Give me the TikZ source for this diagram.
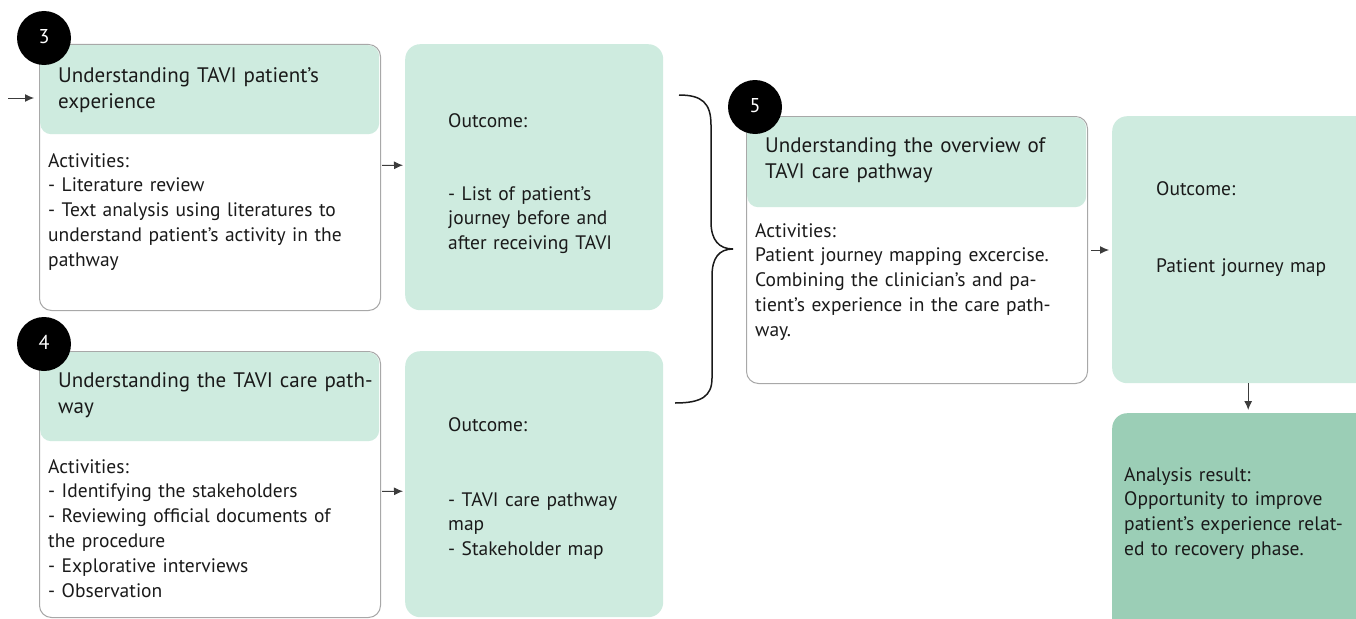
\documentclass[tikz,border=0pt]{standalone}
\usepackage{fontspec}
\setmainfont{PT Sans}
\usetikzlibrary{arrows.meta}
\definecolor{mint}{HTML}{CEEBDF}
\definecolor{deepmint}{HTML}{9BCEB6}
\definecolor{rim}{HTML}{A8A8A8}
\definecolor{ink}{HTML}{1A1A1A}
\newcommand\headf{\fontsize{21}{26}\selectfont}
\newcommand\bodyf{\fontsize{19.5}{24.9}\selectfont}
\tikzset{
  x=1pt, y=-1pt,
  panel/.style={draw=rim, line width=1pt, fill=white, rounded corners=12pt,
    anchor=north west, inner sep=0pt},
  headbox/.style={fill=mint, rounded corners=11pt, anchor=north west, inner sep=0pt},
  outbox/.style={fill=mint, rounded corners=15pt, anchor=north west, inner sep=0pt},
  resbox/.style={fill=deepmint, rounded corners=15pt, anchor=north west, inner sep=0pt},
  numdot/.style={circle, fill=black, minimum size=54pt, inner sep=0pt,
    text=white, font=\fontsize{20}{22}\selectfont},
  htxt/.style={anchor=base west, inner sep=0pt, align=left, text width=330pt,
    font=\headf, text=ink},
  btxt/.style={anchor=base west, inner sep=0pt, align=left, text width=340pt,
    font=\bodyf, text=ink},
  flow/.style={draw=ink!85, line width=1pt, -{Latex[length=9pt,width=8pt]}},
}
\begin{document}
\begin{tikzpicture}
\useasboundingbox (0,0) rectangle (1356,618);
\clip (0,0) rectangle (1356,618);

% step 3: patient experience
\node[panel, minimum width=341pt, minimum height=266pt] (box3) at (39,44) {};
\node[headbox, minimum width=339pt, minimum height=89pt] (head3) at (40,45) {};
\node[outbox, minimum width=258pt, minimum height=266pt] (out1) at (405,44) {};
\node[numdot] (n3) at (44,38) {\raisebox{3pt}{3}};
\node[htxt] (t3h) at (58,82) {Understanding TAVI patient’s\\experience};
\node[btxt] (t3b) at (48,167) {Activities:\\- Literature review\\- Text analysis using literatures to\\understand patient’s activity in the\\pathway};
\node[btxt] (o1a) at (448,127) {Outcome:};
\node[btxt] (o1b) at (448,200) {- List of patient’s\\journey before and\\after receiving TAVI};

% step 4: care pathway
\node[panel, minimum width=341pt, minimum height=266pt] (box4) at (39,351) {};
\node[headbox, minimum width=339pt, minimum height=89pt] (head4) at (40,352) {};
\node[outbox, minimum width=258pt, minimum height=266pt] (out2) at (405,351) {};
\node[numdot] (n4) at (44,344) {\raisebox{3pt}{4}};
\node[htxt] (t4h) at (58,387) {Understanding the TAVI care path-\\way};
\node[btxt] (t4b) at (48,473) {Activities:\\- Identifying the stakeholders\\- Reviewing official documents of\\the procedure\\- Explorative interviews\\- Observation};
\node[btxt] (o2a) at (448,431) {Outcome:};
\node[btxt] (o2b) at (448,506) {- TAVI care pathway\\map\\- Stakeholder map};

% step 5: overview of the pathway
\node[panel, minimum width=341pt, minimum height=267pt] (box5) at (746,116) {};
\node[headbox, minimum width=339pt, minimum height=90pt] (head5) at (747,117) {};
\node[outbox, minimum width=272pt, minimum height=267pt] (out3) at (1112,116) {};
\node[resbox, minimum width=272pt, minimum height=240pt] (res) at (1112,413) {};
\node[numdot] (n5) at (755,107) {\raisebox{3pt}{5}};
\node[htxt] (t5h) at (765,152) {Understanding the overview of\\TAVI care pathway};
\node[btxt] (t5b) at (755,237) {Activities:\\Patient journey mapping excercise.\\Combining the clinician’s and pa-\\tient’s experience in the care path-\\way.};
\node[btxt] (o3a) at (1156,195) {Outcome:};
\node[btxt] (o3b) at (1156,272) {Patient journey map};
\node[btxt] (r1) at (1124,481) {Analysis result:\\Opportunity to improve\\patient’s experience relat-\\ed to recovery phase.};

% connectors
\coordinate (entry) at (8,98);
\draw[flow, shorten >=5pt] (entry) -- (entry -| box3.west);
\draw[flow, shorten <=1pt, shorten >=2pt] ([yshift=12pt]box3.east) -- ([yshift=12pt]out1.west);
\draw[flow, shorten <=1pt, shorten >=2pt] ([yshift=-7pt]box4.east) -- ([yshift=-7pt]out2.west);
\draw[flow, shorten <=3pt, shorten >=3pt] (box5.east) -- (box5.east -| out3.west);
\draw[flow, shorten >=3pt] (out3.south) -- (res.north);

% brace joining steps 3 and 4 into step 5
\coordinate (btop) at (679,95);
\coordinate (btip) at (733,249);
\coordinate (bbot) at (675,403);
\draw[ink, line width=1.5pt]
  (btop) .. controls (702,95) and (711,103) .. (711,125)
  -- (711,222) .. controls (711,240) and (719,249) .. (btip)
  .. controls (719,249) and (712,258) .. (712,276)
  -- (712,378) .. controls (712,396) and (702,403) .. (bbot);
\end{tikzpicture}
\end{document}
